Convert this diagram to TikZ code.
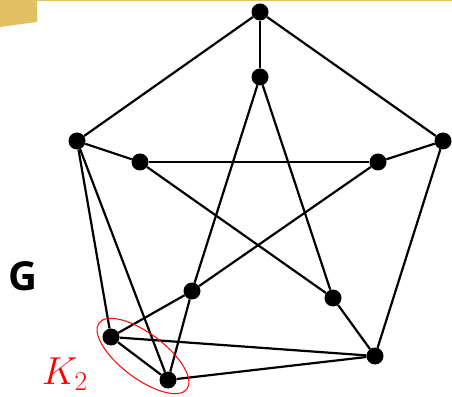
\RequirePackage{fix-cm}
\documentclass[tikz,border=0pt]{standalone}
\usepackage{fontspec}
\newfontfamily\glabelfont{Open Sans}
\usetikzlibrary{shapes.geometric}
\definecolor{slidegold}{HTML}{E4C065}
\tikzstyle{vertex} = [circle, fill=black, inner sep=0pt, minimum size=17pt]
\tikzstyle{edge} = [draw, line width=2.2pt]
\begin{document}
\begin{tikzpicture}[x=1pt, y=1pt]
        \useasboundingbox (0,0) rectangle (452,396);
        % slide corner
        \fill [slidegold] (0,396) -- (37,396) -- (37,374) -- (0,369) -- cycle;
        \fill [slidegold] (37,395) rectangle (452,396);

        % outer ring
        \node (T) [vertex] at (260,384) {};
        \node (L) [vertex] at (77,255) {};
        \node (R) [vertex] at (443,255) {};
        \node (c) [vertex] at (111,59) {};
        \node (d) [vertex] at (168,16) {};
        \node (e) [vertex] at (375,40) {};
        % inner star
        \node (t) [vertex] at (260,319) {};
        \node (l) [vertex] at (140,234) {};
        \node (r) [vertex] at (378,234) {};
        \node (a) [vertex] at (192,105) {};
        \node (b) [vertex] at (333,98) {};

        \path [edge] (T) -- (t);
        \path [edge] (T) -- (L);
        \path [edge] (T) -- (R);
        \path [edge] (L) -- (l);
        \path [edge] (R) -- (r);
        \path [edge] (R) -- (e);
        \path [edge] (L) -- (c);
        \path [edge] (L) -- (d);
        \path [edge] (c) -- (d);
        \path [edge] (c) -- (e);
        \path [edge] (d) -- (e);
        \path [edge] (c) -- (a);
        \path [edge] (d) -- (a);
        \path [edge] (b) -- (e);
        \path [edge] (t) -- (a);
        \path [edge] (t) -- (b);
        \path [edge] (l) -- (r);
        \path [edge] (l) -- (b);
        \path [edge] (r) -- (a);

        \node (ring) [ellipse, draw=red, line width=1pt, minimum width=110pt, minimum height=45pt, rotate=-37] at (143,40) {};
        \node (klabel) [text=red, font=\fontsize{39}{39}\selectfont] at (65,22) {$K_2$};
        \node (glabel) [font=\glabelfont\bfseries\fontsize{40}{40}\selectfont] at (23,120) {G};
    \end{tikzpicture}
\end{document}
